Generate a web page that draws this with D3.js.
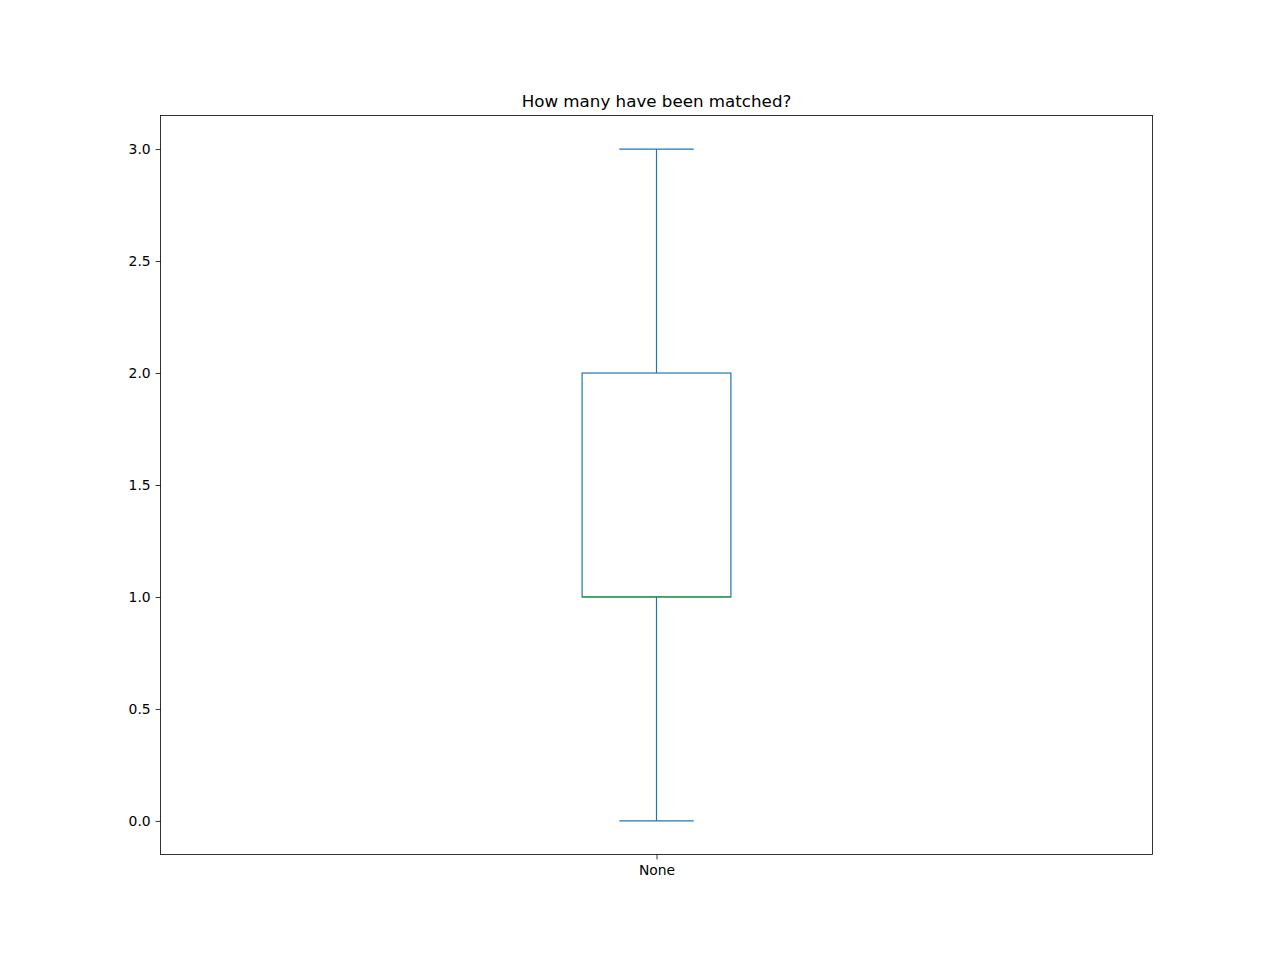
<!DOCTYPE html>
<html><head><meta charset="utf-8">
<script src="https://d3js.org/d3.v7.min.js"></script>
<style>body{margin:0;background:#fff}svg{display:block}text{font-family:"DejaVu Sans",sans-serif}</style>
</head><body>
<script>
const categories = ["None"];
const whiskerLow = [0.0];
const q1 = [1.0];
const median = [1.0];
const q3 = [2.0];
const whiskerHigh = [3.0];
const yTicks = [0.0, 0.5, 1.0, 1.5, 2.0, 2.5, 3.0];
const title = "How many have been matched?";

const W = 1280, H = 960;
const m = {left:160, right:1152, top:115, bottom:854};
const svg0 = d3.select("body").append("svg").attr("width", W).attr("height", H);
const svg = svg0.append("g").attr("transform", "translate(0.5,0.5)");

const x = d3.scaleLinear().domain([0.5, categories.length + 0.5]).range([m.left, m.right]);
const y = d3.scaleLinear().domain([-0.15, 3.15]).range([m.bottom, m.top]);
const boxW = 0.15, capW = 0.075;
const blue = "#1f77b4", green = "#2ca02c";

const yAxis = svg.append("g").attr("transform", `translate(${m.left},0)`)
  .call(d3.axisLeft(y).tickValues(yTicks).tickFormat(d3.format(".1f")).tickSize(4.9).tickPadding(4.9));
const xAxis = svg.append("g").attr("transform", `translate(0,${m.bottom})`)
  .call(d3.axisBottom(x).tickValues(categories.map((c,i)=>i+1)).tickFormat((d,i)=>categories[i]).tickSize(4.9).tickPadding(5.5));
[yAxis, xAxis].forEach(g => {
  g.select(".domain").remove();
  g.selectAll("line").attr("stroke", "#000").attr("stroke-width", 0.8);
  g.selectAll("text").attr("font-size", 13.9).attr("fill", "#000").attr("font-family", "DejaVu Sans, sans-serif");
});

const gB = svg.append("g");
categories.forEach((c, i) => {
  const cx = x(i + 1);
  const lw = 1.2;
  gB.append("line").attr("x1", cx).attr("x2", cx).attr("y1", y(q3[i])).attr("y2", y(whiskerHigh[i])).attr("stroke", blue).attr("stroke-width", lw);
  gB.append("line").attr("x1", cx).attr("x2", cx).attr("y1", y(q1[i])).attr("y2", y(whiskerLow[i])).attr("stroke", blue).attr("stroke-width", lw);
  [whiskerHigh[i], whiskerLow[i]].forEach(v => {
    gB.append("line").attr("x1", x(i + 1 - capW/2)).attr("x2", x(i + 1 + capW/2)).attr("y1", y(v)).attr("y2", y(v)).attr("stroke", blue).attr("stroke-width", lw);
  });
  gB.append("rect").attr("x", x(i + 1 - boxW/2)).attr("y", y(q3[i]))
    .attr("width", x(i + 1 + boxW/2) - x(i + 1 - boxW/2)).attr("height", y(q1[i]) - y(q3[i]))
    .attr("fill", "none").attr("stroke", blue).attr("stroke-width", lw);
  gB.append("line").attr("x1", x(i + 1 - boxW/2)).attr("x2", x(i + 1 + boxW/2)).attr("y1", y(median[i])).attr("y2", y(median[i])).attr("stroke", green).attr("stroke-width", lw);
});

svg.append("rect").attr("x", m.left).attr("y", m.top).attr("width", m.right - m.left).attr("height", m.bottom - m.top)
  .attr("fill", "none").attr("stroke", "#000").attr("stroke-width", 0.8);

svg.append("text").attr("x", (m.left + m.right)/2).attr("y", m.top - 9).attr("text-anchor", "middle")
  .attr("font-size", 16.7).attr("fill", "#000").text(title);
</script>
</body></html>
